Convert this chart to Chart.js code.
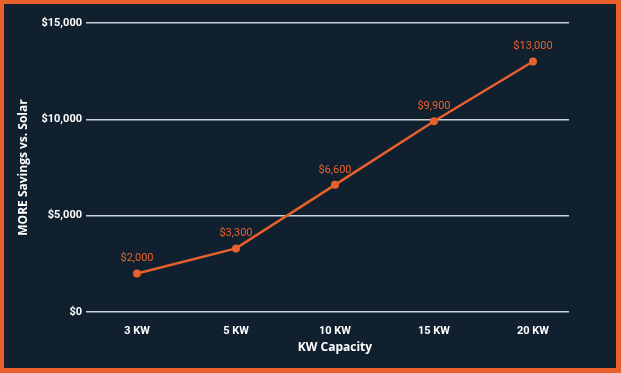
<!DOCTYPE html>
<html><head><meta charset="utf-8">
<script src="https://cdn.jsdelivr.net/npm/chart.js@4/dist/chart.umd.min.js"></script>
<style>html,body{margin:0;padding:0;background:#10202f;}#wrap{width:621px;height:373px;}</style>
</head><body><div id="wrap"><canvas id="c" width="621" height="373"></canvas></div>
<script>
const categories = ["3 KW", "5 KW", "10 KW", "15 KW", "20 KW"];
const savings = [2000, 3300, 6600, 9900, 13000];
const yTicks = [0, 5000, 10000, 15000];
const xTitle = "KW Capacity";
const yTitle = "MORE Savings vs. Solar";

const ORANGE = "#e8602c";
const fmt = v => "$" + v.toLocaleString("en-US");

const framePlugin = {
  id: "frame",
  beforeDraw(chart) {
    const ctx = chart.ctx, w = chart.width, h = chart.height;
    ctx.save();
    ctx.fillStyle = ORANGE;
    ctx.fillRect(0, 0, w, h);
    ctx.fillStyle = "#10202f";
    ctx.fillRect(4, 4, w - 9, h - 9);
    ctx.restore();
  }
};
const labelPlugin = {
  id: "vlabels",
  afterDatasetsDraw(chart) {
    const ctx = chart.ctx;
    const meta = chart.getDatasetMeta(0);
    ctx.save();
    ctx.font = "11px Roboto";
    ctx.fillStyle = ORANGE;
    ctx.textAlign = "center";
    ctx.textBaseline = "middle";
    meta.data.forEach((pt, i) => {
      ctx.fillText(fmt(savings[i]), pt.x, pt.y - 15);
    });
    // x axis title, centred under the middle category
    const xs = chart.scales.x;
    ctx.font = "bold 12px 'Open Sans'";
    ctx.fillStyle = "#ffffff";
    ctx.fillText(xTitle, xs.getPixelForValue((categories.length - 1) / 2), xs.bottom - 15);
    ctx.restore();
  }
};

new Chart(document.getElementById("c"), {
  type: "line",
  data: {
    datasets: [{
      data: savings.map((v, i) => ({ x: i, y: v })),
      borderColor: ORANGE,
      backgroundColor: ORANGE,
      borderWidth: 2.5,
      pointRadius: 4,
      pointBackgroundColor: ORANGE,
      pointBorderWidth: 0,
      tension: 0
    }]
  },
  options: {
    responsive: false,
    animation: false,
    layout: { padding: { left: 16, right: 52, top: 23, bottom: 10 } },
    plugins: { legend: { display: false }, tooltip: { enabled: false } },
    scales: {
      x: {
        type: "linear",
        min: -0.515,
        max: 4.364,
        afterFit(s) { s.height = 51; },
        afterBuildTicks(s) { s.ticks = categories.map((c, i) => ({ value: i })); },
        ticks: {
          stepSize: 1,
          includeBounds: false,
          autoSkip: false,
          maxRotation: 0,
          padding: 5,
          color: "#ffffff",
          font: { family: "Roboto", weight: "bold", size: 11 },
          callback: v => categories[v] !== undefined ? categories[v] : ""
        },
        grid: { display: false },
        border: { display: false },
        title: { display: false }
      },
      y: {
        min: 0,
        max: 15000,
        afterFit(s) { s.width = 70; },
        afterBuildTicks(s) { s.ticks = yTicks.map(v => ({ value: v })); },
        ticks: {
          padding: 4,
          color: "#ffffff",
          font: { family: "Roboto", weight: "bold", size: 11 },
          callback: v => fmt(v)
        },
        grid: { color: "#c8d2da", lineWidth: 1.5, drawTicks: false },
        border: { display: false },
        title: {
          display: true, text: yTitle, color: "#ffffff",
          font: { family: "'Open Sans'", weight: "bold", size: 12 },
          padding: { top: 0, bottom: 0 }
        }
      }
    }
  },
  plugins: [framePlugin, labelPlugin]
});
</script>
</body></html>
